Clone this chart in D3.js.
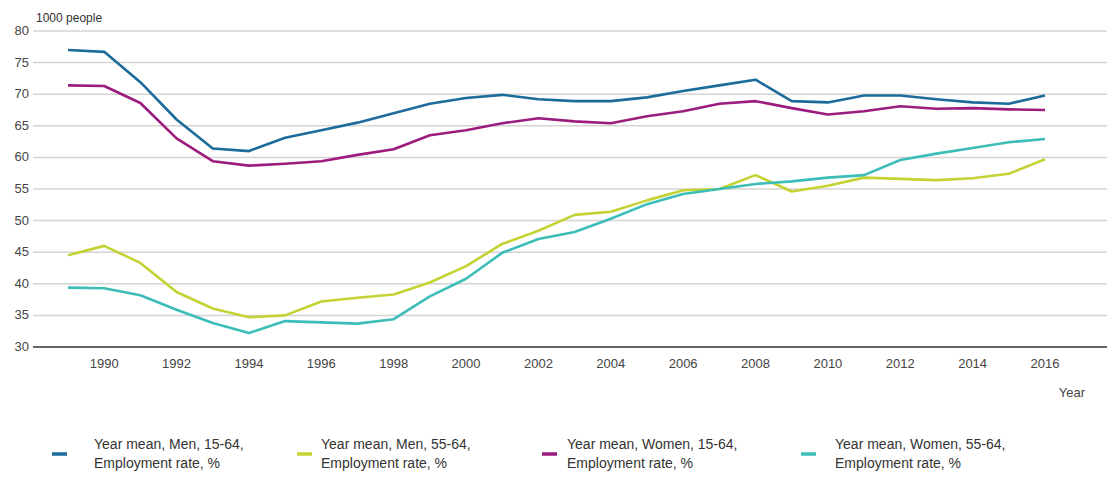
<!DOCTYPE html>
<html>
<head>
<meta charset="utf-8">
<script src="https://cdn.jsdelivr.net/npm/d3@7"></script>
<style>
  body { margin: 0; background: #fff; }
  svg { display: block; font-family: "Liberation Sans", Arial, sans-serif; }
</style>
</head>
<body>
<svg id="chart" width="1107" height="477"></svg>
<script>
const years = d3.range(1989, 2017);

const menPrime = [77.0, 76.7, 71.9, 66.0, 61.4, 61.0, 63.1, 64.3, 65.5, 67.0, 68.5, 69.4, 69.9, 69.2,
  68.9, 68.9, 69.5, 70.5, 71.4, 72.3, 68.9, 68.7, 69.8, 69.8, 69.2, 68.7, 68.5, 69.8];
const menOlder = [44.5, 46.0, 43.3, 38.7, 36.1, 34.7, 35.0, 37.2, 37.8, 38.3, 40.2, 42.8, 46.3, 48.4,
  50.9, 51.4, 53.2, 54.8, 55.0, 57.2, 54.6, 55.5, 56.8, 56.6, 56.4, 56.7, 57.4, 59.7];
const womenPrime = [71.4, 71.3, 68.6, 63.0, 59.4, 58.7, 59.0, 59.4, 60.4, 61.3, 63.5, 64.3, 65.4, 66.2,
  65.7, 65.4, 66.5, 67.3, 68.5, 68.9, 67.8, 66.8, 67.3, 68.1, 67.7, 67.8, 67.6, 67.5];
const womenOlder = [39.4, 39.3, 38.2, 35.9, 33.8, 32.2, 34.1, 33.9, 33.7, 34.4, 38.0, 40.8, 44.9, 47.1,
  48.2, 50.3, 52.6, 54.2, 55.0, 55.8, 56.2, 56.8, 57.2, 59.6, 60.6, 61.5, 62.4, 62.9];

const seriesNames = [
  ["Year mean, Men, 15-64,", "Employment rate, %"],
  ["Year mean, Men, 55-64,", "Employment rate, %"],
  ["Year mean, Women, 15-64,", "Employment rate, %"],
  ["Year mean, Women, 55-64,", "Employment rate, %"]
];
const seriesValues = [menPrime, menOlder, womenPrime, womenOlder];
const colors = ["#1d6b9b", "#c4d334", "#9c1c7d", "#3cbdb8"];

const yTicks = [30, 35, 40, 45, 50, 55, 60, 65, 70, 75, 80];
const xTicks = d3.range(1990, 2017, 2);

const svg = d3.select("#chart");

const x = d3.scaleLinear().domain([1989, 2016]).range([68, 1045]);
const y = d3.scaleLinear().domain([30, 80]).range([347, 31]);

// gridlines
svg.append("g")
  .selectAll("line")
  .data(yTicks.filter(d => d > 30))
  .join("line")
  .attr("x1", 33).attr("x2", 1107)
  .attr("y1", d => y(d)).attr("y2", d => y(d))
  .attr("stroke", "#d4d4d4")
  .attr("stroke-width", 1.5);

// y labels
svg.append("g")
  .selectAll("text")
  .data(yTicks)
  .join("text")
  .attr("x", 29)
  .attr("y", d => y(d) + 4)
  .attr("text-anchor", "end")
  .attr("font-size", 13)
  .attr("fill", "#444")
  .text(d => d);

// bottom axis line
svg.append("line")
  .attr("x1", 33).attr("x2", 1107)
  .attr("y1", y(30)).attr("y2", y(30))
  .attr("stroke", "#666")
  .attr("stroke-width", 2);

// x labels
svg.append("g")
  .selectAll("text")
  .data(xTicks)
  .join("text")
  .attr("x", d => x(d))
  .attr("y", 368)
  .attr("text-anchor", "middle")
  .attr("font-size", 13)
  .attr("fill", "#444")
  .text(d => d);

svg.append("text")
  .attr("x", 36).attr("y", 22)
  .attr("font-size", 12)
  .attr("fill", "#333")
  .text("1000 people");

svg.append("text")
  .attr("x", 1072).attr("y", 397)
  .attr("text-anchor", "middle")
  .attr("font-size", 13)
  .attr("fill", "#444")
  .text("Year");

const line = d3.line()
  .x((d, i) => x(years[i]))
  .y(d => y(d));

// draw order: yellow, teal, magenta, blue
[1, 3, 2, 0].forEach(i => {
  svg.append("path")
    .attr("d", line(seriesValues[i]))
    .attr("fill", "none")
    .attr("stroke", colors[i])
    .attr("stroke-width", 2.6)
    .attr("stroke-linejoin", "round");
});

// legend
const legendX = [52, 297, 542, 801];
const legend = svg.append("g");
seriesNames.forEach((lines, i) => {
  legend.append("line")
    .attr("x1", legendX[i]).attr("x2", legendX[i] + 15)
    .attr("y1", 454).attr("y2", 454)
    .attr("stroke", colors[i])
    .attr("stroke-width", 3.5);
  const t = legend.append("text")
    .attr("x", legendX[i] + 42 - (i === 1 ? 18 : 0) - (i === 2 ? 17 : 0) - (i === 3 ? 8 : 0))
    .attr("y", 449)
    .attr("font-size", 14)
    .attr("fill", "#333");
  lines.forEach((s, j) => {
    t.append("tspan")
      .attr("x", t.attr("x"))
      .attr("dy", j === 0 ? 0 : 19)
      .text(s);
  });
});
</script>
</body>
</html>
